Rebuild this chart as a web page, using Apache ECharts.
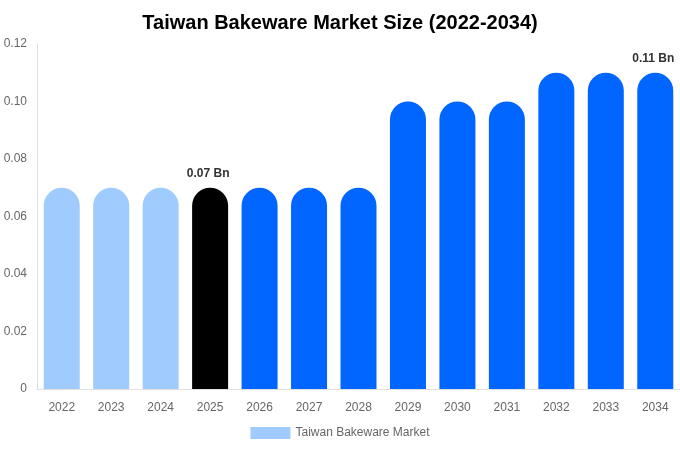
<!DOCTYPE html>
<html>
	<head>
		<meta charset="utf-8">
		<title>Taiwan Bakeware Market Size</title>
		<style type="text/css">
			html, body { margin: 0; padding: 0; background: #fff; }
			#chart { width: 680px; height: 450px; }
		</style>
	</head>
	<body>
		<div id="chart"></div>
		<script src="https://cdn.jsdelivr.net/npm/echarts@6/dist/echarts.min.js" type="text/javascript" charset="utf-8"></script>
		<script type="text/javascript">
			var years = ['2022', '2023', '2024', '2025', '2026', '2027', '2028', '2029', '2030', '2031', '2032', '2033', '2034'];
			var values = [0.07, 0.07, 0.07, 0.07, 0.07, 0.07, 0.07, 0.10, 0.10, 0.10, 0.11, 0.11, 0.11];
			// bar colour per year: past, current, forecast
			var barColors = ['#a0cbff', '#a0cbff', '#a0cbff', '#000000', '#0066ff', '#0066ff', '#0066ff',
				'#0066ff', '#0066ff', '#0066ff', '#0066ff', '#0066ff', '#0066ff'];
			var labelled = ['2025', '2034'];

			var chart = echarts.init(document.getElementById('chart'));

			var barData = values.map(function(v, i) {
				return {
					value: v,
					itemStyle: { color: barColors[i] },
					label: { show: labelled.indexOf(years[i]) >= 0 }
				};
			});

			var option = {
				title: {
					text: 'Taiwan Bakeware Market Size (2022-2034)',
					left: 'center',
					top: 8,
					textStyle: {
						fontFamily: 'Liberation Sans, Arial, sans-serif',
						fontSize: 20,
						fontWeight: 'bold',
						color: '#000'
					}
				},
				legend: {
					bottom: 6,
					left: 'center',
					icon: 'rect',
					itemWidth: 40,
					itemHeight: 12,
					data: ['Taiwan Bakeware Market'],
					textStyle: {
						fontFamily: 'Liberation Sans, Arial, sans-serif',
						fontSize: 12,
						color: '#666'
					}
				},
				grid: {
					top: 44,
					left: 37,
					right: 0,
					bottom: 61
				},
				xAxis: {
					type: 'category',
					data: years,
					axisTick: { show: false },
					axisLine: { lineStyle: { color: '#e0e0e0' } },
					axisLabel: {
						margin: 13,
						fontFamily: 'Liberation Sans, Arial, sans-serif',
						fontSize: 12,
						color: '#666'
					}
				},
				yAxis: {
					type: 'value',
					min: 0,
					max: 0.12,
					interval: 0.02,
					axisLine: { show: true, lineStyle: { color: '#e0e0e0' } },
					axisTick: { show: false },
					splitLine: { show: false },
					axisLabel: {
						margin: 10,
						fontFamily: 'Liberation Sans, Arial, sans-serif',
						fontSize: 12,
						color: '#666',
						formatter: function(v) {
							return v === 0 ? '0' : v.toFixed(2);
						}
					}
				},
				series: [{
					name: 'Taiwan Bakeware Market',
					type: 'bar',
					barWidth: 36,
					data: barData,
					itemStyle: {
						color: '#a0cbff',
						borderRadius: [18, 18, 0, 0]
					},
					label: {
						position: 'top',
						distance: 8,
						offset: [-2, 0],
						formatter: function(p) {
							return p.value.toFixed(2) + ' Bn';
						},
						fontFamily: 'Liberation Sans, Arial, sans-serif',
						fontSize: 12,
						fontWeight: 'bold',
						color: '#333'
					}
				}]
			};

			chart.setOption(option);
		</script>
	</body>
</html>
